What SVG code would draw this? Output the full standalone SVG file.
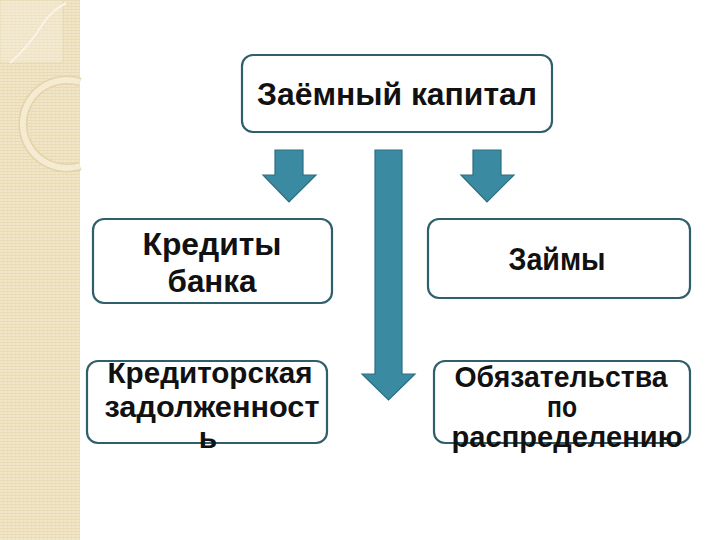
<svg xmlns="http://www.w3.org/2000/svg" width="720" height="540" viewBox="0 0 720 540">
<defs>
<style>
.box{fill:#ffffff;stroke:#2f5f6c;stroke-width:2.2}
.t{font-family:"Liberation Sans",Arial,sans-serif;font-weight:bold;fill:#111;text-anchor:middle}
.arr{fill:#3a8aa2;stroke:#2d6e82;stroke-width:1.2}
</style>
<pattern id="lines" width="4" height="3" patternUnits="userSpaceOnUse">
<rect width="4" height="3" fill="#f1e6c8"/>
<rect width="4" height="1" fill="#e8d9b3"/>
<rect x="3" width="1" height="3" fill="#ecdebb"/>
</pattern>
</defs>
<rect width="720" height="540" fill="#ffffff"/>
<g id="band">
<rect x="0" y="0" width="80" height="540" fill="url(#lines)"/>
<rect x="0" y="0" width="63" height="63" fill="#f6efdc" opacity="0.45" stroke="#e2d2a8" stroke-width="1"/>
<path d="M10 63 Q30 45 42 25 Q52 10 66 3" fill="none" stroke="#faf4e6" stroke-width="2"/>
<path d="M80 82 A44 44 0 1 0 80 166" fill="none" stroke="#e4d3a9" stroke-width="9"/>
<path d="M80 82 A44 44 0 1 0 80 166" fill="none" stroke="#f4ebd2" stroke-width="6"/>
</g>
<g id="connectors">
<polygon class="arr" points="275,150 303,150 303,175 316,175 289,202 263,175 275,175"/>
<polygon class="arr" points="473,150 501,150 501,175 514,175 487,202 461,175 473,175"/>
<polygon class="arr" points="375,150 402,150 402,374 415,374 388.5,400 362,374 375,374"/>
</g>
<g id="n-top">
<rect class="box" x="242" y="55" width="310" height="77" rx="11"/>
<text class="t" x="397" y="105" font-size="31" textLength="280" lengthAdjust="spacingAndGlyphs">Заёмный капитал</text>
</g>
<g id="n-credit">
<rect class="box" x="93" y="219" width="239" height="84" rx="11"/>
<text class="t" x="212" y="255" font-size="31" textLength="139" lengthAdjust="spacingAndGlyphs">Кредиты</text>
<text class="t" x="212" y="292" font-size="31" textLength="89" lengthAdjust="spacingAndGlyphs">банка</text>
</g>
<g id="n-loans">
<rect class="box" x="428" y="219" width="262" height="79" rx="11"/>
<text class="t" x="557" y="270" font-size="31" textLength="97" lengthAdjust="spacingAndGlyphs">Займы</text>
</g>
<g id="n-payable">
<rect class="box" x="87" y="361" width="240" height="82" rx="11"/>
<text class="t" x="210" y="383" font-size="30" textLength="205" lengthAdjust="spacingAndGlyphs">Кредиторская</text>
<text class="t" x="212" y="417" font-size="30" textLength="215" lengthAdjust="spacingAndGlyphs">задолженност</text>
<text class="t" x="208" y="448" font-size="30">ь</text>
</g>
<g id="n-oblig">
<rect class="box" x="434" y="361" width="256" height="82" rx="11"/>
<text class="t" x="561" y="387" font-size="30" textLength="213" lengthAdjust="spacingAndGlyphs">Обязательства</text>
<text class="t" x="562" y="417" font-size="30" textLength="30" lengthAdjust="spacingAndGlyphs">по</text>
<text class="t" x="567" y="447" font-size="30" textLength="231" lengthAdjust="spacingAndGlyphs">распределению</text>
</g>
</svg>
